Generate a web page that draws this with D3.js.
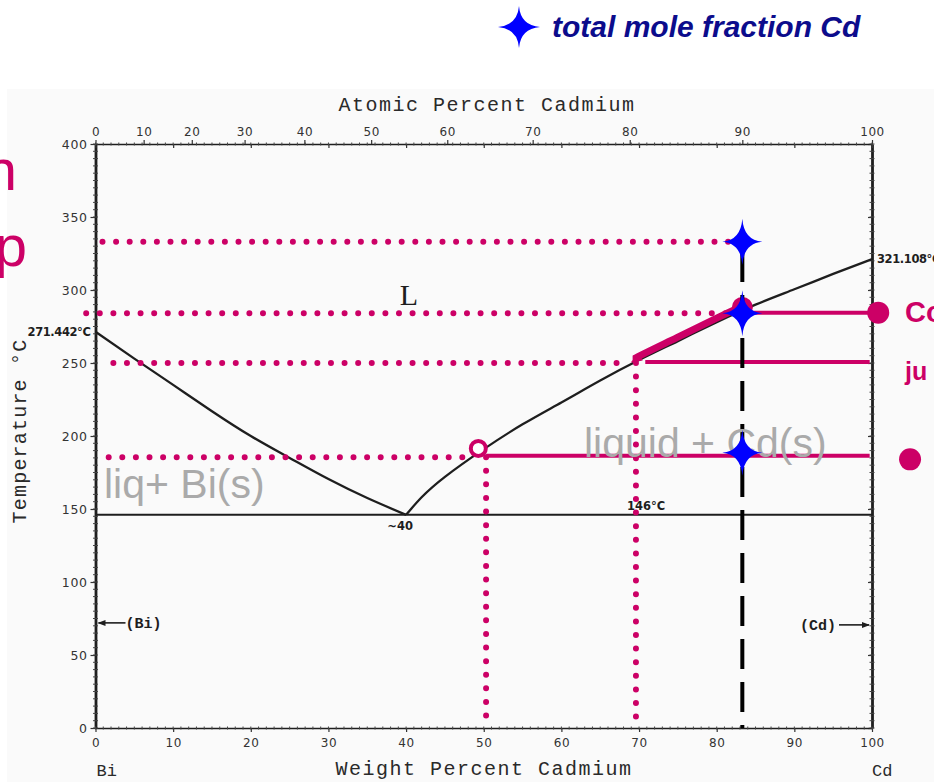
<!DOCTYPE html>
<html>
<head>
<meta charset="utf-8">
<script src="https://cdn.jsdelivr.net/npm/d3@7"></script>
<style>
  html, body { margin: 0; padding: 0; background: #fff; }
  svg { display: block; }
</style>
</head>
<body>
<svg id="chart" width="934" height="782"></svg>
<script>
// Bi–Cd phase diagram (temperature vs. weight percent Cd) with a cooling walk-through

// ---- axes ----
const weightTicks = [0, 10, 20, 30, 40, 50, 60, 70, 80, 90, 100];
const tempTicks = [0, 50, 100, 150, 200, 250, 300, 350, 400];
const atomicTicks = [0, 10, 20, 30, 40, 50, 60, 70, 80, 90, 100];
// weight percent Cd where each atomic-percent tick sits
const atomicTickWeight = [0, 6.2, 12.4, 19.2, 26.9, 35.5, 45.3, 56.3, 68.8, 83.3, 100];

// ---- phase boundaries (wt% Cd, °C) ----
const biLiquidus = [[0, 271.442], [5, 253], [10, 235], [15, 217], [20, 200], [25, 185],
                    [30, 170.5], [35, 157.5], [40, 146]];
const cdLiquidus = [[40, 146], [42, 158], [45, 172], [50, 191], [55, 208], [60, 223],
                    [65, 238], [70, 252], [75, 265], [80, 278], [85, 290], [90, 300.5],
                    [95, 311], [100, 321.108]];
const eutecticTemp = 146;
const eutecticWeight = 40;
const biMelt = 271.442;
const cdMelt = 321.108;

// ---- cooling of an alloy with 90 at.% Cd ----
const totalWeight = 83.3;
const coolingTemps = [333, 284, 188.5];

// horizontal dotted read-off lines
const readTemps = [333, 284, 250, 185.5];
const readFrom = [0.9, -1.2, 2.3, 1.7];
const readTo = [81.5, 82.5, 68.8, 48];
// vertical dotted read-off lines
const dropWeights = [50.3, 69.6];
const dropFrom = [185.5, 250];
const dropTo = [7, 4];
// tie lines to the Cd side
const tieTemps = [284.5, 250.7, 186.5];
const tieFrom = [83.3, 70.8, 50.3];
const tieTo = [100.8, 99.7, 99.7];
// liquid composition travelling down the liquidus
const liquidPathFrom = 69.3;
const liquidPathTo = 83.2;
const liquidPoint = [83.3, 288];
const eutecticApproach = [49.3, 191.5];
const bulletPoints = [[100.8, 284.5], [104.9, 184]];

const MAGENTA = "#cc0066";
const INK = "#1e1e1e";

const svg = d3.select("#chart");

const x = d3.scaleLinear().domain([0, 100]).range([95.5, 872]);
const y = d3.scaleLinear().domain([0, 400]).range([728, 144]);
const atScale = d3.scaleLinear().domain(atomicTicks).range(atomicTickWeight.map(x));

// paper of the scanned diagram
svg.append("rect").attr("x", 7).attr("y", 89).attr("width", 927).attr("height", 693)
  .attr("fill", "#fafafa");

// ---------- axes ----------
function styleAxis(g, labels) {
  g.select(".domain").attr("stroke", INK).attr("stroke-width", 1.6);
  g.selectAll(".tick line").attr("stroke", "#333").attr("stroke-width", 1.2);
  g.selectAll(".tick text")
    .attr("font-family", "DejaVu Sans")
    .attr("font-size", 12)
    .attr("fill", "#333")
    .attr("letter-spacing", labels ? 0.6 : 0);
}

const gLeft = svg.append("g").attr("transform", `translate(${x(0)},0)`)
  .call(d3.axisLeft(y).tickValues(tempTicks).tickSize(5).tickSizeOuter(0).tickPadding(3));
styleAxis(gLeft, true);
gLeft.select(".domain").attr("stroke-width", 2.8);
gLeft.selectAll(".tick text").attr("font-size", 12.5);

const gRight = svg.append("g").attr("transform", `translate(${x(100)},0)`)
  .call(d3.axisLeft(y).tickValues(tempTicks).tickSize(4).tickSizeOuter(0).tickFormat(""));
styleAxis(gRight, false);
gRight.select(".domain").attr("stroke-width", 2.8);

const gBottom = svg.append("g").attr("transform", `translate(0,${y(0)})`)
  .call(d3.axisBottom(x).tickValues(weightTicks).tickSize(4).tickSizeOuter(0).tickPadding(6));
styleAxis(gBottom, true);

const gTop = svg.append("g").attr("transform", `translate(0,${y(400)})`)
  .call(d3.axisTop(atScale).tickValues(atomicTicks).tickSize(4).tickSizeOuter(0).tickPadding(4));
styleAxis(gTop, true);

const gTopW = svg.append("g").attr("transform", `translate(0,${y(400)})`)
  .call(d3.axisBottom(x).tickValues(weightTicks).tickSize(4).tickSizeOuter(0).tickFormat(""));
styleAxis(gTopW, false);
gTopW.select(".domain").remove();

// fine tick texture along the frame
const fineW = d3.range(0, 100.5, 1);
const fineT = d3.range(0, 400.5, 5);
const tex = svg.append("g").attr("stroke", "#444").attr("stroke-width", 1);
[0, 400].forEach(t => {
  tex.selectAll(null).data(fineW).join("line")
    .attr("x1", d => x(d)).attr("x2", d => x(d))
    .attr("y1", y(t) - 1.5).attr("y2", y(t) + 1.5);
});
[0, 100].forEach(w => {
  tex.selectAll(null).data(fineT).join("line")
    .attr("x1", x(w) - 2.5).attr("x2", x(w) + 2.5)
    .attr("y1", d => y(d)).attr("y2", d => y(d));
});

// axis titles in the typewriter face of the original diagram
const mono = "Liberation Mono, Courier New, monospace";
svg.append("text").attr("x", 487).attr("y", 111).attr("text-anchor", "middle")
  .attr("font-family", mono).attr("font-size", 20).attr("letter-spacing", 1.5)
  .attr("fill", "#2a2a2a").text("Atomic Percent Cadmium");
svg.append("text").attr("x", 484).attr("y", 775).attr("text-anchor", "middle")
  .attr("font-family", mono).attr("font-size", 20).attr("letter-spacing", 1.5)
  .attr("fill", "#2a2a2a").text("Weight Percent Cadmium");
svg.append("text").attr("transform", "translate(26,431) rotate(-90)").attr("text-anchor", "middle")
  .attr("font-family", mono).attr("font-size", 20).attr("letter-spacing", 1.2)
  .attr("fill", "#2a2a2a").text("Temperature °C");
svg.append("text").attr("x", x(0) + 1).attr("y", 776)
  .attr("font-family", mono).attr("font-size", 17)
  .attr("fill", "#2a2a2a").text("Bi");
svg.append("text").attr("x", x(100)).attr("y", 776)
  .attr("font-family", mono).attr("font-size", 17)
  .attr("fill", "#2a2a2a").text("Cd");

// ---------- phase boundaries ----------
const line = d3.line().x(d => x(d[0])).y(d => y(d[1])).curve(d3.curveNatural);

const diagram = svg.append("g").attr("fill", "none").attr("stroke", INK).attr("stroke-width", 2.3);
diagram.append("path").attr("d", line(biLiquidus));
diagram.append("path").attr("d", line(cdLiquidus));
diagram.append("line").attr("x1", x(0)).attr("x2", x(100))
  .attr("y1", y(eutecticTemp)).attr("y2", y(eutecticTemp)).attr("stroke-width", 2);

// terminal solid-solution arrows
const arrowY = y(72);
svg.append("line").attr("x1", x(0) + 3).attr("x2", x(0) + 30).attr("y1", arrowY).attr("y2", arrowY)
  .attr("stroke", INK).attr("stroke-width", 1.6);
svg.append("path").attr("d", `M${x(0) + 2},${arrowY} l8,-3 l0,6 z`).attr("fill", INK);
svg.append("text").attr("x", x(0) + 30).attr("y", arrowY + 5)
  .attr("font-family", mono).attr("font-size", 15).attr("font-weight", "bold")
  .attr("fill", INK).text("(Bi)");
svg.append("line").attr("x1", x(100) - 33).attr("x2", x(100) - 3).attr("y1", arrowY + 2).attr("y2", arrowY + 2)
  .attr("stroke", INK).attr("stroke-width", 1.6);
svg.append("path").attr("d", `M${x(100) - 2},${arrowY + 2} l-8,-3 l0,6 z`).attr("fill", INK);
svg.append("text").attr("x", x(100) - 36).attr("y", arrowY + 7).attr("text-anchor", "end")
  .attr("font-family", mono).attr("font-size", 15).attr("font-weight", "bold")
  .attr("fill", INK).text("(Cd)");

// point labels
const small = { "font-family": "DejaVu Sans", "font-size": 11.5, "font-weight": "bold", fill: INK };
function label(txt, px, py, anchor) {
  const t = svg.append("text").attr("x", px).attr("y", py).attr("text-anchor", anchor || "start").text(txt);
  Object.entries(small).forEach(([k, v]) => t.attr(k, v));
  return t;
}
label(biMelt.toFixed(3) + "°C", x(0) - 5, y(biMelt) + 4, "end").attr("letter-spacing", -0.4);
label(cdMelt.toFixed(3) + "°C", x(100) + 5, y(cdMelt) + 4).attr("letter-spacing", -0.4);
label("~" + eutecticWeight, x(eutecticWeight) - 6, y(eutecticTemp) + 15, "middle");
label(eutecticTemp + "°C", 646, y(eutecticTemp) - 5, "middle");

svg.append("text").attr("x", 409).attr("y", 305).attr("text-anchor", "middle")
  .attr("font-family", "Liberation Serif, serif").attr("font-size", 30)
  .attr("fill", INK).text("L");

// ---------- cooling annotations ----------
const anno = svg.append("g");

// dotted read-offs
anno.selectAll(".readH").data(readTemps).join("line")
  .attr("x1", (d, i) => x(readFrom[i])).attr("x2", (d, i) => x(readTo[i]))
  .attr("y1", d => y(d)).attr("y2", d => y(d))
  .attr("stroke", MAGENTA).attr("stroke-width", 6)
  .attr("stroke-linecap", "round").attr("stroke-dasharray", "0 13.6");
anno.selectAll(".readV").data(dropWeights).join("line")
  .attr("x1", d => x(d)).attr("x2", d => x(d))
  .attr("y1", (d, i) => y(dropFrom[i])).attr("y2", (d, i) => y(dropTo[i]))
  .attr("stroke", MAGENTA).attr("stroke-width", 6)
  .attr("stroke-linecap", "round").attr("stroke-dasharray", "0 13.6");

// tie lines
anno.selectAll(".tie").data(tieTemps).join("line")
  .attr("x1", (d, i) => x(tieFrom[i])).attr("x2", (d, i) => x(tieTo[i]))
  .attr("y1", d => y(d)).attr("y2", d => y(d))
  .attr("stroke", MAGENTA).attr("stroke-width", 4);

// liquid composition path along the Cd liquidus
svg.append("clipPath").attr("id", "liqClip").append("rect")
  .attr("x", x(liquidPathFrom)).attr("y", 0)
  .attr("width", x(liquidPathTo) - x(liquidPathFrom)).attr("height", 782);
anno.append("path").attr("d", line(cdLiquidus))
  .attr("transform", "translate(-1,-3.5)")
  .attr("clip-path", "url(#liqClip)")
  .attr("fill", "none").attr("stroke", MAGENTA).attr("stroke-width", 7);
anno.append("path")
  .attr("d", `M${x(liquidPathFrom) - 3},${y(251) + 1} l9,-10 l3,8 z`)
  .attr("fill", MAGENTA);

// overall composition
svg.append("line").attr("x1", x(totalWeight)).attr("x2", x(totalWeight))
  .attr("y1", y(326)).attr("y2", y(0))
  .attr("stroke", "#000").attr("stroke-width", 4).attr("stroke-dasharray", "30 13");

// phase-field labels
const region = { "font-family": "Liberation Sans, Arial, sans-serif", "font-size": 41, fill: "#aaaaaa" };
[["liq+ Bi(s)", 104, 498], ["liquid + Cd(s)", 584, 457]].forEach(([txt, px, py]) => {
  const t = svg.append("text").attr("x", px).attr("y", py).text(txt);
  Object.entries(region).forEach(([k, v]) => t.attr(k, v));
});

// markers
anno.append("circle").attr("cx", x(eutecticApproach[0])).attr("cy", y(eutecticApproach[1]))
  .attr("r", 7.5).attr("fill", "#fff").attr("stroke", MAGENTA).attr("stroke-width", 4);
anno.append("circle").attr("cx", x(liquidPoint[0])).attr("cy", y(liquidPoint[1]))
  .attr("r", 10.5).attr("fill", MAGENTA);
anno.selectAll(".bullet").data(bulletPoints).join("circle")
  .attr("cx", d => x(d[0])).attr("cy", d => y(d[1])).attr("r", 11).attr("fill", MAGENTA);

// four-point star marking the total composition
function starPath(w, h, k) {
  return `M0,${-h}Q${k},${-k} ${w},0Q${k},${k} 0,${h}Q${-k},${k} ${-w},0Q${-k},${-k} 0,${-h}Z`;
}
svg.selectAll(".star").data(coolingTemps).join("path")
  .attr("transform", d => `translate(${x(totalWeight)},${y(d)})`)
  .attr("d", starPath(20, 23, 1.6)).attr("fill", "#0000ff");

// legend
svg.append("path").attr("transform", "translate(519,27)")
  .attr("d", starPath(21, 21, 1.6)).attr("fill", "#0000ff");
svg.append("text").attr("x", 552).attr("y", 37)
  .attr("font-family", "Liberation Sans, Arial, sans-serif").attr("font-size", 30)
  .attr("font-weight", "bold").attr("font-style", "italic")
  .attr("fill", "#0c0c8c").text("total mole fraction Cd");

// slide text running off the edges
const slide = { "font-family": "Liberation Sans, Arial, sans-serif", fill: MAGENTA };
function slideText(txt, px, py, size, anchor, weight) {
  const t = svg.append("text").attr("x", px).attr("y", py).attr("font-size", size)
    .attr("text-anchor", anchor).attr("font-weight", weight).text(txt);
  Object.entries(slide).forEach(([k, v]) => t.attr(k, v));
}
slideText("n", 17, 190, 58, "end", "normal");
slideText("p", 27, 266, 58, "end", "normal");
slideText("Co", 905, 322, 29, "start", "bold");
slideText("ju", 905, 380, 25, "start", "bold");
</script>
</body>
</html>
